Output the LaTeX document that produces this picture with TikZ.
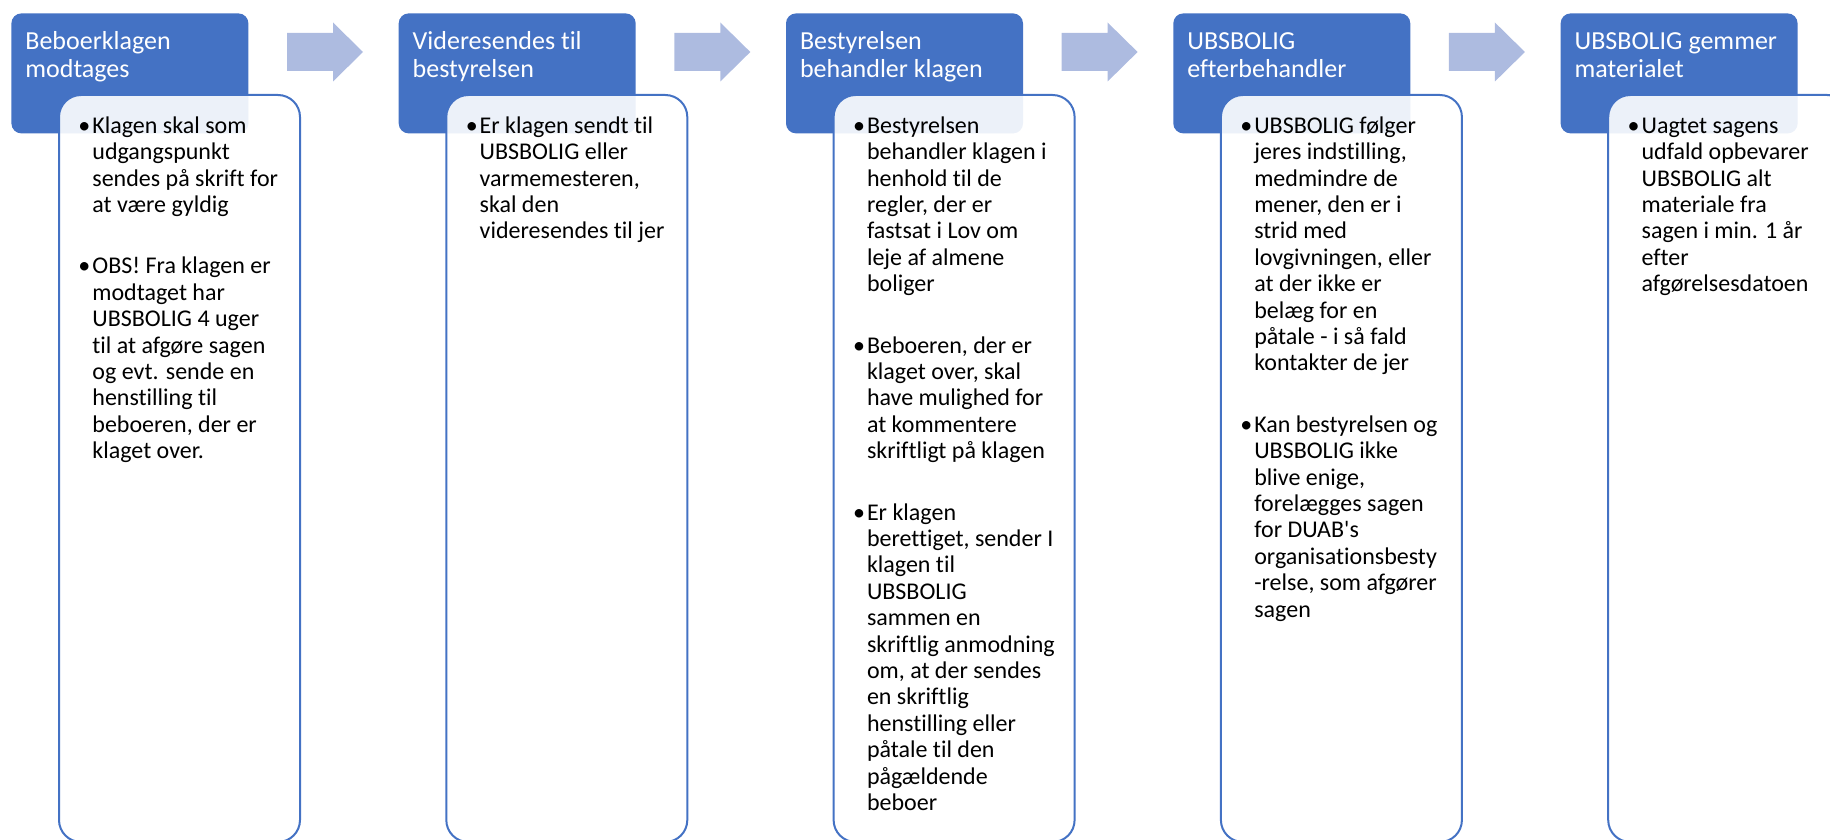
\documentclass[tikz,border=0pt]{standalone}
\usepackage{fontspec}
\setmainfont{Carlito}[Ligatures={TeXOff,NoCommon}]
\usepackage{tikz}
\definecolor{UBS_Blue}{HTML}{4472C4}
\definecolor{UBS_LightBlue}{HTML}{ADBBE0}
\newcommand{\itembullet}{\llap{\textbullet\hspace{1pt}}\strut}

\begin{document}
\begin{tikzpicture}[x=0.5pt, y=-0.5pt,
    headbox/.style={fill=UBS_Blue, rounded corners=5pt, minimum width=118.5pt, minimum height=60pt, inner sep=0pt, anchor=north west},
    headtext/.style={text=white, font=\fontsize{13pt}{14pt}\selectfont, align=left, inner sep=0pt, anchor=north west},
    bodybox/.style={draw=UBS_Blue, line width=1pt, fill=white, fill opacity=0.9, rounded corners=11pt, minimum width=120.5pt, minimum height=373.5pt, inner sep=0pt, anchor=north west},
    bodytext/.style={text=black, font=\fontsize{12pt}{13.2pt}\selectfont, align=left, inner sep=0pt, anchor=north west},
    flowarrow/.style={fill=UBS_LightBlue}]
    \useasboundingbox (0,0) rectangle (1830,840);
    \clip (0,0) rectangle (1830,840);

    % ===== STEP 1: Beboerklagen modtages =====
    \begin{scope}[shift={(11,0)}]
        \node[headbox] (head1) at (0,13) {};
        \node[bodybox] (box1) at (47,94) {};
        \node[headtext] (title1) at (14,29.4) {\strut Beboerklagen\\modtages};
        \node[bodytext] (text1) at (81,114.5) {\itembullet Klagen skal som\\udgangspunkt\\sendes på skrift for\\at være gyldig\\[17.5pt]
            \itembullet OBS! Fra klagen er\\modtaget har\\UBSBOLIG 4 uger\\til at afgøre sagen\\og evt. sende en\\henstilling til\\beboeren, der er\\klaget over.};
    \end{scope}

    % ===== STEP 2: Videresendes til bestyrelsen =====
    \begin{scope}[shift={(398.3,0)}]
        \node[headbox] (head2) at (0,13) {};
        \node[bodybox] (box2) at (47,94) {};
        \node[headtext] (title2) at (14,29.4) {\strut Videresendes til\\bestyrelsen};
        \node[bodytext] (text2) at (81,114.5) {\itembullet Er klagen sendt til\\UBSBOLIG eller\\varmemesteren,\\skal den\\videresendes til jer};
    \end{scope}

    % ===== STEP 3: Bestyrelsen behandler klagen =====
    \begin{scope}[shift={(785.6,0)}]
        \node[headbox] (head3) at (0,13) {};
        \node[bodybox] (box3) at (47,94) {};
        \node[headtext] (title3) at (14,29.4) {\strut Bestyrelsen\\behandler klagen};
        \node[bodytext] (text3) at (81,114.5) {\itembullet Bestyrelsen\\behandler klagen i\\henhold til de\\regler, der er\\fastsat i Lov om\\leje af almene\\boliger\\[17.5pt]
            \itembullet Beboeren, der er\\klaget over, skal\\have mulighed for\\at kommentere\\skriftligt på klagen\\[17.5pt]
            \itembullet Er klagen\\berettiget, sender I\\klagen til\\UBSBOLIG\\sammen en\\skriftlig anmodning\\om, at der sendes\\en skriftlig\\henstilling eller\\påtale til den\\pågældende\\beboer};
    \end{scope}

    % ===== STEP 4: UBSBOLIG efterbehandler =====
    \begin{scope}[shift={(1172.9,0)}]
        \node[headbox] (head4) at (0,13) {};
        \node[bodybox] (box4) at (47,94) {};
        \node[headtext] (title4) at (14,29.4) {\strut UBSBOLIG\\efterbehandler};
        \node[bodytext] (text4) at (81,114.5) {\itembullet UBSBOLIG følger\\jeres indstilling,\\medmindre de\\mener, den er i\\strid med\\lovgivningen, eller\\at der ikke er\\belæg for en\\påtale - i så fald\\kontakter de jer\\[17.5pt]
            \itembullet Kan bestyrelsen og\\UBSBOLIG ikke\\blive enige,\\forelægges sagen\\for DUAB's\\organisationsbesty\\-relse, som afgører\\sagen};
    \end{scope}

    % ===== STEP 5: UBSBOLIG gemmer materialet =====
    \begin{scope}[shift={(1560.2,0)}]
        \node[headbox] (head5) at (0,13) {};
        \node[bodybox] (box5) at (47,94) {};
        \node[headtext] (title5) at (14,29.4) {\strut UBSBOLIG gemmer\\materialet};
        \node[bodytext] (text5) at (81,114.5) {\itembullet Uagtet sagens\\udfald opbevarer\\UBSBOLIG alt\\materiale fra\\sagen i min. 1 år\\efter\\afgørelsesdatoen};
    \end{scope}

    % Arrows between steps
    \fill[flowarrow] (287,33) -- ++(46,0) -- ++(0,-10.5) -- ++(30,29.5) -- ++(-30,29.5) -- ++(0,-10.5) -- ++(-46,0) -- cycle;
    \fill[flowarrow] (674.3,33) -- ++(46,0) -- ++(0,-10.5) -- ++(30,29.5) -- ++(-30,29.5) -- ++(0,-10.5) -- ++(-46,0) -- cycle;
    \fill[flowarrow] (1061.6,33) -- ++(46,0) -- ++(0,-10.5) -- ++(30,29.5) -- ++(-30,29.5) -- ++(0,-10.5) -- ++(-46,0) -- cycle;
    \fill[flowarrow] (1448.9,33) -- ++(46,0) -- ++(0,-10.5) -- ++(30,29.5) -- ++(-30,29.5) -- ++(0,-10.5) -- ++(-46,0) -- cycle;
\end{tikzpicture}
\end{document}
